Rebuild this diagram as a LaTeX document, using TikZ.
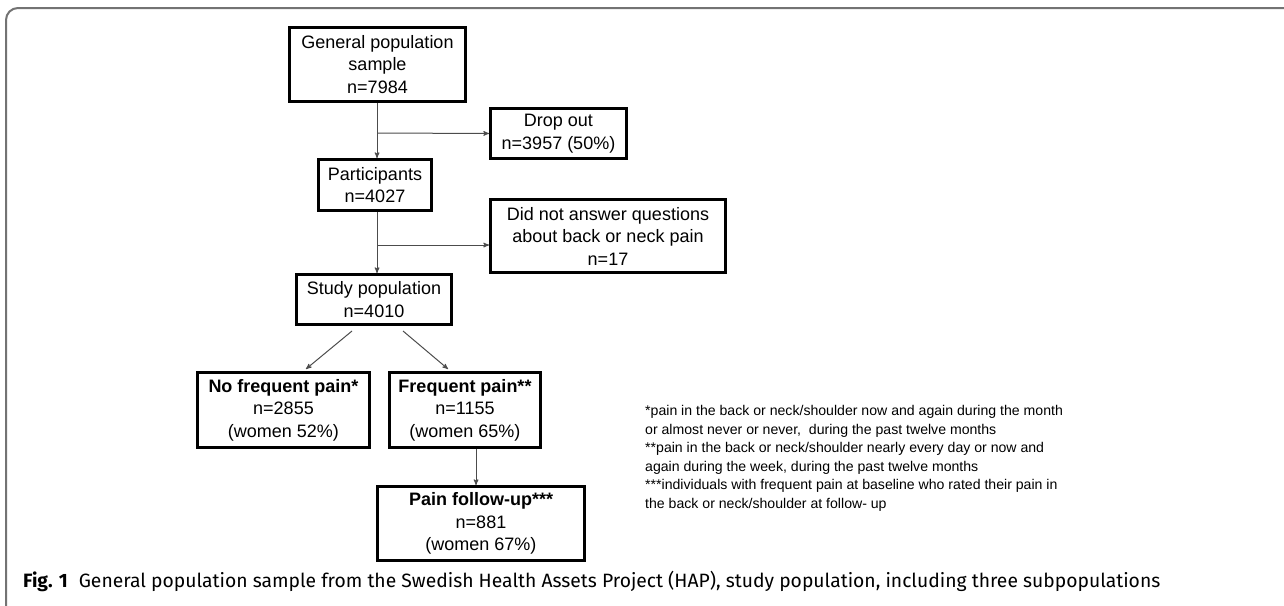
\documentclass[tikz,border=0pt]{standalone}
\usepackage{fontspec}
\setmainfont{Liberation Sans}
\newfontfamily\capfont{Fira Sans}
\usetikzlibrary{arrows}

\begin{document}
\begin{tikzpicture}[x=1pt,y=-1pt,->,>=stealth',
                    box/.style={rectangle,draw,line width=3pt,align=center,inner sep=0pt,
                                font=\fontsize{18}{22.5}\selectfont},
                    link/.style={draw=black!70,line width=1pt}]
\useasboundingbox (0,0) rectangle (1284,605);
\draw[-,black!55,line width=2pt,rounded corners=12pt] (1310,8) -- (6,8) -- (6,630) -- (40,630);

\node[box,minimum width=176pt,minimum height=74pt] (sample) at (377.5,64.5) {General population\\sample\\n=7984};
\node[box,minimum width=136pt,minimum height=50pt] (dropout) at (558.5,133.5) {Drop out\\n=3957 (50\%)};
\node[box,minimum width=113pt,minimum height=51pt] (participants) at (375,185) {Participants\\n=4027};
\node[box,minimum width=235pt,minimum height=73pt] (noanswer) at (608,236) {Did not answer questions\\about back or neck pain\\n=17};
\node[box,minimum width=155pt,minimum height=50pt] (study) at (374,299.5) {Study population\\n=4010};
\node[box,minimum width=172pt,minimum height=75pt] (nofreq) at (283.5,410) {\textbf{No frequent pain*}\\n=2855\\(women 52\%)};
\node[box,minimum width=151pt,minimum height=75pt] (freq) at (465,410) {\textbf{Frequent pain**}\\n=1155\\(women 65\%)};
\node[box,minimum width=207pt,minimum height=74pt] (followup) at (481,523.5) {\textbf{Pain follow-up***}\\n=881\\(women 67\%)};

\coordinate (drop split) at (377,133);
\coordinate (answer split) at (377,245);
\coordinate (pain split) at (476,449);

\path[every edge/.style=link]
(sample.south -| drop split) edge (drop split |- participants.north)
(drop split) edge (dropout.west)
(participants.south -| answer split) edge (answer split |- study.north)
(answer split) edge (answer split -| noanswer.west)
([xshift=-22pt,yshift=-5pt]study.south) edge ([xshift=22.5pt,yshift=2pt]nofreq.north)
([xshift=29pt,yshift=-5pt]study.south) edge ([xshift=-17pt,yshift=2pt]freq.north)
(pain split) edge (pain split |- followup.north)
;

\node[anchor=north west,align=left,inner sep=0pt,font=\fontsize{14.1}{18.6}\selectfont] (notes) at (645,405)
{*pain in the back or neck/shoulder now and again during the month\\
or almost never or never,\ \ during the past twelve months\\
**pain in the back or neck/shoulder nearly every day or now and\\
again during the week,\ during the\ past twelve months\\
***individuals with frequent pain at baseline who rated their pain in\\
the back or neck/shoulder at follow- up};

\node[anchor=base west,inner sep=0pt,font=\capfont\fontsize{19.3}{22}\selectfont] (caption) at (23,587)
{\textbf{Fig. 1}\hspace{11pt}General population sample from the Swedish Health Assets Project (HAP), study population, including three subpopulations};
\end{tikzpicture}
\end{document}
